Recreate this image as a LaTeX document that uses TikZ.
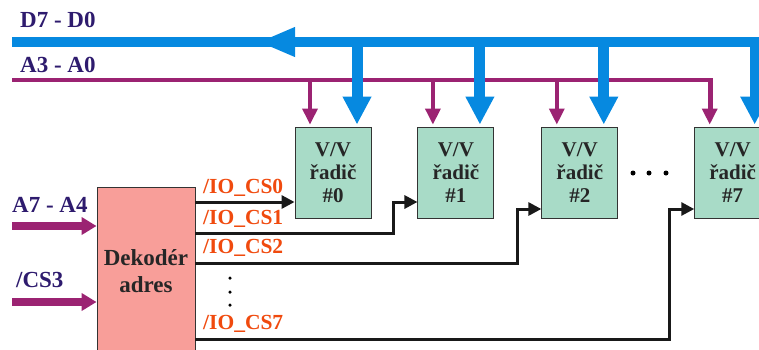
\documentclass[tikz,border=0pt]{standalone}
\usepackage{fontspec}
\setmainfont{Liberation Serif}
\usetikzlibrary{positioning, arrows.meta, calc}
\definecolor{busblue}{HTML}{0689E0}
\definecolor{adrpurple}{HTML}{9B2372}
\definecolor{lblpurple}{HTML}{2E1B6E}
\definecolor{csorange}{HTML}{F04A0E}
\definecolor{ctrlgreen}{HTML}{A8DBC7}
\definecolor{decpink}{HTML}{F89E99}

\begin{document}
\begin{tikzpicture}[x=1pt, y=-1pt,
      ctrl/.style={draw=black!80, line width=0.9pt, fill=ctrlgreen,
        text=black!85, align=center, font=\fontsize{21}{23}\selectfont\bfseries,
        minimum width=76pt, minimum height=91pt, inner sep=0pt},
      dec/.style={draw=black!80, line width=0.9pt, fill=decpink,
        text=black!85, align=center, font=\fontsize{23}{27}\selectfont\bfseries,
        minimum width=98pt, minimum height=168pt, inner sep=0pt},
      buslbl/.style={anchor=west, text=lblpurple, inner sep=0pt,
        font=\fontsize{23}{25}\selectfont\bfseries},
      cslbl/.style={anchor=west, text=csorange, inner sep=0pt,
        font=\fontsize{21.5}{23}\selectfont\bfseries},
      dbus/.style={busblue, line width=10pt},
      dpfeil/.style={busblue, line width=11pt, -{Triangle[length=28pt, width=27pt]}},
      abus/.style={adrpurple, line width=4.5pt},
      apfeil/.style={adrpurple, line width=3.5pt, -{Triangle[length=16pt, width=15pt]}},
      inpfeil/.style={adrpurple, line width=8pt, -{Triangle[length=15pt, width=17pt]}},
      sel/.style={black!90, line width=3pt, -{Triangle[length=13pt, width=13pt]}},
      tecka/.style={circle, fill=black, inner sep=0pt, minimum size=4pt}]
    \clip (0,0) rectangle (759,349);
    % bloky
    \node[ctrl] (c0) at (333,172.5) {V/V\\řadič\\\#0};
    \node[ctrl, right=46pt of c0] (c1) {V/V\\řadič\\\#1};
    \node[ctrl, right=47pt of c1] (c2) {V/V\\řadič\\\#2};
    \node[ctrl, right=76pt of c2] (c7) {V/V\\řadič\\\#7};
    \node[dec] (dec) at (146,271) {Dekodér\\adres};
    % sbernice
    \coordinate (dL) at (12,42);
    \coordinate (aL) at (12,80);
    \node[buslbl] (dlbl) at (20,20) {D7 - D0};
    \node[buslbl] (albl) at (20,65) {A3 - A0};
    \draw[dbus, line join=miter] (dL) -- ([xshift=22pt]c7.north |- dL)
      -- ([xshift=22pt, yshift=27pt]c7.north);
    \draw[dpfeil] ([xshift=22pt, yshift=28pt]c7.north) -- ([xshift=22pt, yshift=2pt]c7.north);
    \draw[dbus, -{Triangle[length=37pt, width=27pt]}] (300,42) -- (258,42);
    \draw[abus, line join=miter] (aL) -- ([xshift=-22pt]c7.north |- aL)
      -- ([xshift=-22pt, yshift=16pt]c7.north);
    \draw[apfeil] ([xshift=-23pt]c7.north |- aL) -- ([xshift=-23pt, yshift=2pt]c7.north);
    \foreach \c in {c0, c1, c2} {
      \draw[apfeil] ([xshift=-23pt]\c.north |- aL) -- ([xshift=-23pt, yshift=2pt]\c.north);
      \draw[dpfeil] ([xshift=24pt]\c.north |- dL) -- ([xshift=24pt, yshift=2pt]\c.north);
    }
    % vstupy dekoderu
    \node[buslbl] (ahi) at (12,205) {A7 - A4};
    \node[buslbl] (cs3) at (16,280) {/CS3};
    \draw[inpfeil] (12,226) -- (dec.west |- 0,226);
    \draw[inpfeil] (12,302) -- (dec.west |- 0,302);
    % vybery
    \node[cslbl] (l0) at (203,188) {/IO\_CS0};
    \node[cslbl] (l1) at (203,219) {/IO\_CS1};
    \node[cslbl] (l2) at (203,248) {/IO\_CS2};
    \node[cslbl] (l7) at (203,324) {/IO\_CS7};
    \draw[sel] (dec.east |- 0,202) -- (c0.west |- 0,202);
    \draw[sel] (dec.east |- 0,233) -- (393,233) -- (393,202) -- (c1.west |- 0,202);
    \draw[sel] (dec.east |- 0,263) -- (517,263) -- (517,209) -- (c2.west |- 0,209);
    \draw[sel] (dec.east |- 0,339) -- (669,339) -- (669,209) -- (c7.west |- 0,209);
    % tecky
    \foreach \y in {278, 292, 305}
      \node[tecka, minimum size=3.5pt] at (230,\y) {};
    \foreach \x in {633, 649, 666}
      \node[tecka, minimum size=5pt] at (\x,173) {};
  \end{tikzpicture}
\end{document}
